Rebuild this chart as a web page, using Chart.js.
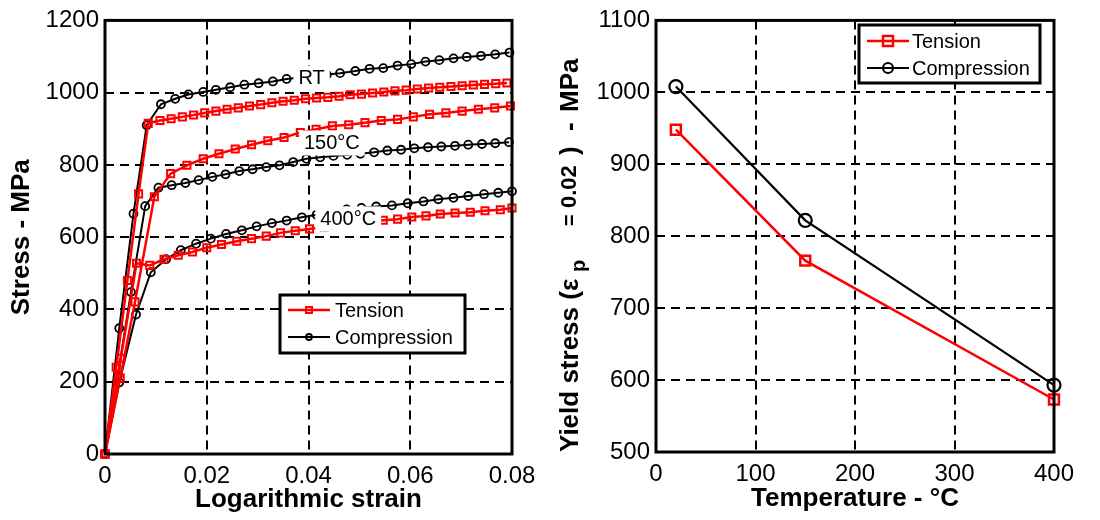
<!DOCTYPE html>
<html>
<head>
<meta charset="utf-8">
<script src="https://cdn.jsdelivr.net/npm/chart.js@4.4.1/dist/chart.umd.min.js"></script>
<style>
  body { margin: 0; background: #fff; }
  #wrap { position: relative; width: 1100px; height: 520px; }
  .panel { position: absolute; top: 0; width: 550px; height: 520px; }
</style>
</head>
<body>
<div id="wrap">
  <div class="panel" style="left:0"><canvas id="left" width="550" height="520"></canvas></div>
  <div class="panel" style="left:550px"><canvas id="right" width="550" height="520"></canvas></div>
</div>
<script>
// ---- left panel: stress / strain curves ----
const rtTensionStrain = [0, 0.0022, 0.0044, 0.0066, 0.0085, 0.0108, 0.0130, 0.0152, 0.0174, 0.0196, 0.0218, 0.0240, 0.0262, 0.0284, 0.0306, 0.0328, 0.0350, 0.0372, 0.0394, 0.0416, 0.0438, 0.0460, 0.0482, 0.0504, 0.0526, 0.0548, 0.0570, 0.0592, 0.0614, 0.0636, 0.0658, 0.0680, 0.0702, 0.0724, 0.0746, 0.0768, 0.0790];
const rtTensionStress = [0, 240, 480, 720, 915, 923, 928, 933, 938, 944, 949, 954, 958, 963, 967, 972, 976, 979, 983, 985, 987, 990, 994, 996, 999, 1002, 1005, 1007, 1010, 1013, 1015, 1017, 1019, 1021, 1023, 1025, 1027];

const t150TensionStrain = [0, 0.0030, 0.0059, 0.0097, 0.0129, 0.0161, 0.0193, 0.0224, 0.0256, 0.0288, 0.0320, 0.0352, 0.0384, 0.0415, 0.0447, 0.0479, 0.0511, 0.0543, 0.0575, 0.0606, 0.0638, 0.0670, 0.0702, 0.0734, 0.0766, 0.0797];
const t150TensionStress = [0, 210, 421, 712, 776, 799, 817, 831, 844, 856, 867, 876, 890, 899, 908, 911, 917, 923, 926, 933, 940, 944, 949, 954, 958, 963];

const t400TensionStrain = [0, 0.0031, 0.0062, 0.0088, 0.0116, 0.0144, 0.0172, 0.0200, 0.0229, 0.0259, 0.0288, 0.0317, 0.0345, 0.0374, 0.0402, 0.0431, 0.0460, 0.0489, 0.0518, 0.0547, 0.0575, 0.0603, 0.0631, 0.0659, 0.0688, 0.0718, 0.0747, 0.0777, 0.0800];
const t400TensionStress = [0, 265, 528, 522, 539, 550, 559, 571, 580, 589, 596, 603, 612, 618, 623, 628, 633, 638, 643, 647, 650, 656, 659, 664, 667, 669, 673, 676, 681];

const rtCompStrain = [0, 0.0028, 0.0056, 0.0082, 0.0110, 0.0138, 0.0164, 0.0193, 0.0218, 0.0246, 0.0274, 0.0302, 0.0330, 0.0357, 0.0384, 0.0410, 0.0436, 0.0462, 0.0492, 0.0520, 0.0547, 0.0575, 0.0602, 0.0630, 0.0657, 0.0685, 0.0711, 0.0739, 0.0767, 0.0795];
const rtCompStress = [0, 348, 665, 910, 968, 983, 995, 1002, 1008, 1015, 1022, 1026, 1031, 1038, 1042, 1046, 1050, 1054, 1060, 1066, 1068, 1075, 1079, 1086, 1090, 1095, 1099, 1102, 1106, 1111];

const t150CompStrain = [0, 0.0025, 0.0051, 0.0079, 0.0105, 0.0131, 0.0158, 0.0184, 0.0211, 0.0237, 0.0264, 0.0290, 0.0317, 0.0343, 0.0370, 0.0396, 0.0423, 0.0449, 0.0476, 0.0502, 0.0529, 0.0555, 0.0582, 0.0608, 0.0635, 0.0661, 0.0688, 0.0714, 0.0741, 0.0767, 0.0794];
const t150CompStress = [0, 215, 448, 686, 737, 744, 750, 758, 767, 774, 783, 788, 794, 799, 808, 817, 821, 825, 828, 831, 835, 840, 842, 846, 849, 851, 853, 856, 858, 860, 863];

const t400CompStrain = [0, 0.0028, 0.0061, 0.0090, 0.0120, 0.0149, 0.0179, 0.0208, 0.0238, 0.0269, 0.0298, 0.0328, 0.0357, 0.0387, 0.0416, 0.0446, 0.0475, 0.0504, 0.0533, 0.0564, 0.0595, 0.0626, 0.0655, 0.0685, 0.0714, 0.0745, 0.0773, 0.0800];
const t400CompStress = [0, 198, 386, 503, 539, 564, 582, 596, 609, 619, 630, 639, 646, 655, 662, 670, 677, 681, 685, 688, 694, 699, 705, 709, 714, 719, 723, 727];

const strainTicks = [0, 0.02, 0.04, 0.06, 0.08];
const stressTicks = [0, 200, 400, 600, 800, 1000, 1200];

const curveNames = ['RT', '150°C', '400°C'];
const curveNameStrain = [0.0406, 0.0446, 0.0478];
const curveNameStress = [1041, 862, 652];

// ---- right panel: yield stress vs temperature ----
const temperatures = [20, 150, 400];
const yieldTension = [948, 766, 573];
const yieldCompression = [1008, 822, 593];
const tempTicks = [0, 100, 200, 300, 400];
const yieldTicks = [500, 600, 700, 800, 900, 1000, 1100];

const FONT = "'Liberation Sans', Arial, Helvetica, sans-serif";
const RED = '#ff0000';

function zip(xs, ys) {
  return xs.map((x, i) => ({ x: x, y: ys[i] }));
}

// box around plot area, like matlab
const framePlugin = {
  id: 'frame',
  afterDraw(chart) {
    const { ctx, chartArea: a } = chart;
    ctx.save();
    ctx.lineWidth = 3;
    ctx.strokeStyle = '#000';
    ctx.strokeRect(a.left, a.top, a.right - a.left, a.bottom - a.top);
    ctx.restore();
  }
};

// legend drawn inside the axes
const boxLegend = {
  id: 'boxLegend',
  afterDraw(chart, args, opts) {
    const ctx = chart.ctx;
    const [bx, by, bw, bh] = opts.box;
    ctx.save();
    ctx.fillStyle = '#fff';
    ctx.fillRect(bx, by, bw, bh);
    ctx.lineWidth = 3;
    ctx.strokeStyle = '#000';
    ctx.strokeRect(bx, by, bw, bh);
    opts.items.forEach((idx, i) => {
      const ds = chart.data.datasets[idx];
      const y = by + opts.rowTop + i * opts.rowGap;
      const x0 = bx + opts.lineStart;
      const x1 = x0 + opts.lineLen;
      const xm = (x0 + x1) / 2;
      ctx.strokeStyle = ds.borderColor;
      ctx.lineWidth = ds.borderWidth;
      ctx.beginPath();
      ctx.moveTo(x0, y);
      ctx.lineTo(x1, y);
      ctx.stroke();
      const r = opts.markerSize[i];
      ctx.lineWidth = ds.pointBorderWidth;
      ctx.beginPath();
      if (ds.pointStyle === 'rect') ctx.rect(xm - r, y - r, 2 * r, 2 * r);
      else ctx.arc(xm, y, r, 0, Math.PI * 2);
      ctx.stroke();
      ctx.fillStyle = '#000';
      ctx.font = '20px ' + FONT;
      ctx.textBaseline = 'middle';
      ctx.textAlign = 'left';
      ctx.fillText(ds.label, bx + opts.textStart, y + 1);
    });
    ctx.restore();
  }
};

// temperature names on the curves, with white background
const curveText = {
  id: 'curveText',
  afterDatasetsDraw(chart, args, opts) {
    if (!opts.texts) return;
    const ctx = chart.ctx;
    const xs = chart.scales.x, ys = chart.scales.y;
    ctx.save();
    ctx.font = '20px ' + FONT;
    ctx.textAlign = 'center';
    ctx.textBaseline = 'middle';
    opts.texts.forEach((t, i) => {
      const px = xs.getPixelForValue(opts.xs[i]);
      const py = ys.getPixelForValue(opts.ys[i]);
      const w = ctx.measureText(t).width;
      ctx.fillStyle = '#fff';
      ctx.fillRect(px - w / 2 - 5, py - 12, w + 10, 25);
      ctx.fillStyle = '#000';
      ctx.fillText(t, px, py + 1);
    });
    ctx.restore();
  }
};

// y title of the right panel with subscript
const yieldTitle = {
  id: 'yieldTitle',
  afterDraw(chart, args, opts) {
    if (!opts.pieces) return;
    const ctx = chart.ctx;
    ctx.save();
    ctx.translate(opts.x, 0);
    ctx.rotate(-Math.PI / 2);
    ctx.fillStyle = '#000';
    ctx.textBaseline = 'alphabetic';
    ctx.textAlign = 'left';
    opts.pieces.forEach(p => {
      ctx.font = 'bold ' + p.size + 'px ' + FONT;
      ctx.fillText(p.text, -p.start, p.shift);
    });
    ctx.restore();
  }
};

function axisX(tickValues, min, max, title, titlePad, height) {
  return {
    type: 'linear', min: min, max: max,
    afterBuildTicks: s => { s.ticks = tickValues.map(v => ({ value: v })); },
    afterFit: s => { s.height = height; },
    ticks: { color: '#000', font: { family: FONT, size: 24 }, padding: 8, maxRotation: 0, callback: v => String(v) },
    grid: { color: '#000', lineWidth: 2, drawTicks: false },
    border: { display: false, dash: [9, 6] },
    title: { display: true, text: title, color: '#000', font: { family: FONT, size: 26, weight: 'bold' }, padding: { top: 0, bottom: titlePad } }
  };
}

function axisY(tickValues, min, max, title, width) {
  return {
    type: 'linear', min: min, max: max,
    afterBuildTicks: s => { s.ticks = tickValues.map(v => ({ value: v })); },
    afterFit: s => { s.width = width; },
    ticks: { color: '#000', font: { family: FONT, size: 24 }, padding: 6, callback: v => String(v) },
    grid: { color: '#000', lineWidth: 2, drawTicks: false },
    border: { display: false, dash: [9, 6] },
    title: { display: !!title, text: title, color: '#000', font: { family: FONT, size: 26, weight: 'bold' }, padding: { top: 6, bottom: 0 } }
  };
}

function tensionSet(data, radius, width, line) {
  return { label: 'Tension', data: data, borderColor: RED, borderWidth: line, pointStyle: 'rect',
    pointRadius: radius, pointBorderWidth: width, pointBorderColor: RED,
    pointBackgroundColor: 'rgba(0,0,0,0)', tension: 0, clip: 12 };
}
function compressionSet(data, radius, width, line) {
  return { label: 'Compression', data: data, borderColor: '#000', borderWidth: line, pointStyle: 'circle',
    pointRadius: radius, pointBorderWidth: width, pointBorderColor: '#000',
    pointBackgroundColor: 'rgba(0,0,0,0)', tension: 0, clip: 12 };
}

new Chart(document.getElementById('left'), {
  type: 'line',
  data: {
    datasets: [
      tensionSet(zip(rtTensionStrain, rtTensionStress), 5, 2, 2.5),
      tensionSet(zip(t150TensionStrain, t150TensionStress), 5, 2, 2.5),
      tensionSet(zip(t400TensionStrain, t400TensionStress), 5, 2, 2.5),
      compressionSet(zip(rtCompStrain, rtCompStress), 4, 1.8, 2),
      compressionSet(zip(t150CompStrain, t150CompStress), 4, 1.8, 2),
      compressionSet(zip(t400CompStrain, t400CompStress), 4, 1.8, 2)
    ]
  },
  options: {
    responsive: false,
    animation: false,
    layout: { padding: { left: 0, top: 15, right: 38, bottom: 0 } },
    scales: {
      x: axisX(strainTicks, 0, 0.08, 'Logarithmic strain', 5, 66),
      y: axisY(stressTicks, 0, 1200, 'Stress - MPa', 105)
    },
    plugins: {
      legend: { display: false },
      tooltip: { enabled: false },
      curveText: { texts: curveNames, xs: curveNameStrain, ys: curveNameStress },
      boxLegend: { box: [280, 295, 185, 58], items: [0, 3], rowTop: 15, rowGap: 27,
        lineStart: 8, lineLen: 42, textStart: 55, markerSize: [3, 3] }
    }
  },
  plugins: [curveText, framePlugin, boxLegend]
});

new Chart(document.getElementById('right'), {
  type: 'line',
  data: {
    datasets: [
      tensionSet(zip(temperatures, yieldTension), 7, 2.5, 2.5),
      compressionSet(zip(temperatures, yieldCompression), 6.5, 2.2, 2.2)
    ]
  },
  options: {
    responsive: false,
    animation: false,
    layout: { padding: { left: 0, top: 18, right: 46, bottom: 0 } },
    scales: {
      x: axisX(tempTicks, 0, 400, 'Temperature - °C', 6, 68),
      y: axisY(yieldTicks, 500, 1100, '', 106)
    },
    plugins: {
      legend: { display: false },
      tooltip: { enabled: false },
      boxLegend: { box: [309, 25, 181, 58], items: [0, 1], rowTop: 16, rowGap: 27,
        lineStart: 8, lineLen: 42, textStart: 53, markerSize: [5, 5] },
      yieldTitle: { x: 28, pieces: [
        { text: 'Yield stress (ε', size: 26, start: 452, shift: 0 },
        { text: 'p', size: 20, start: 272, shift: 7 },
        { text: '=', size: 20, start: 226, shift: -2 },
        { text: '0.02', size: 22, start: 208, shift: -2 },
        { text: ')', size: 26, start: 155, shift: 0 },
        { text: '-', size: 26, start: 131, shift: 0 },
        { text: 'MPa', size: 26, start: 112, shift: 0 }
      ] }
    }
  },
  plugins: [framePlugin, boxLegend, yieldTitle]
});
</script>
</body>
</html>
